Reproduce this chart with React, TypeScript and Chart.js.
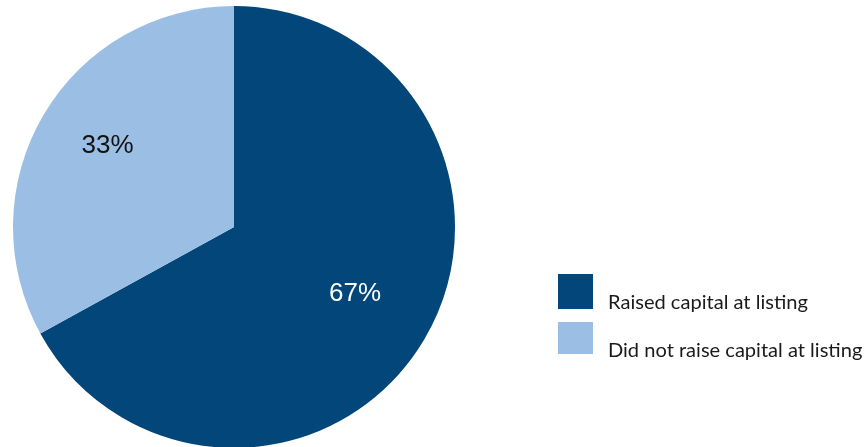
import React, { useEffect, useRef } from "react";
import { Chart, registerables } from "chart.js";

Chart.register(...registerables);

const categories = ["Raised capital at listing", "Did not raise capital at listing"];
const shares = [67, 33];
const valueLabels = ["67%", "33%"];
const sliceColors = ["#03477A", "#9BBFE4"];
const labelColors = ["#FFFFFF", "#111111"];

const labelPlugin = {
  id: "sliceLabels",
  afterDatasetsDraw(chart: any) {
    const ctx = chart.ctx;
    const meta = chart.getDatasetMeta(0);
    const fracs = [0.623, 0.683];
    const angleShift = [-2.2, 2.5];
    ctx.save();
    ctx.font = "26px 'Liberation Sans', Arial, sans-serif";
    ctx.textAlign = "center";
    ctx.textBaseline = "middle";
    meta.data.forEach((arc: any, i: number) => {
      const p = arc.getProps(["x", "y", "startAngle", "endAngle", "outerRadius"], true);
      const mid = (p.startAngle + p.endAngle) / 2 + (angleShift[i] * Math.PI) / 180;
      const r = p.outerRadius * fracs[i];
      ctx.fillStyle = labelColors[i];
      ctx.fillText(valueLabels[i], p.x + Math.cos(mid) * r, p.y + Math.sin(mid) * r + 1);
    });
    ctx.restore();
  },
};

const legendPlugin = {
  id: "customLegend",
  afterDraw(chart: any) {
    const ctx = chart.ctx;
    ctx.save();
    const boxX = 558;
    const boxTops = [274, 322];
    const boxSize = 35;
    ctx.font = "20px Lato, 'Liberation Sans', sans-serif";
    const w = ctx.measureText(categories[0]).width;
    const size = (20 * 200) / w;
    ctx.font = `${size.toFixed(2)}px Lato, 'Liberation Sans', sans-serif`;
    ctx.textAlign = "left";
    ctx.textBaseline = "alphabetic";
    categories.forEach((c, i) => {
      ctx.fillStyle = sliceColors[i];
      ctx.fillRect(boxX, boxTops[i], boxSize, i === 0 ? 35 : 32);
      ctx.fillStyle = "#1a1a1a";
      ctx.fillText(c, 608, boxTops[i] + 35);
    });
    ctx.restore();
  },
};

export default function App() {
  const ref = useRef<HTMLCanvasElement>(null);
  useEffect(() => {
    document.body.style.margin = "0";
    document.body.style.overflow = "hidden";
    const chart = new Chart(ref.current!, {
      type: "pie",
      data: {
        labels: categories,
        datasets: [
          {
            data: shares,
            backgroundColor: sliceColors,
            borderWidth: 0,
          },
        ],
      },
      options: {
        animation: false,
        responsive: false,
        maintainAspectRatio: false,
        layout: { padding: { left: 13, top: 6, right: 410, bottom: 2 } },
        plugins: {
          legend: { display: false },
          tooltip: { enabled: false },
        },
      },
      plugins: [labelPlugin, legendPlugin],
    });
    return () => chart.destroy();
  }, []);
  return (
    <div style={{ position: "fixed", left: 0, top: 0, width: 865, height: 447, overflow: "hidden", background: "#fff" }}>
      <canvas ref={ref} width={865} height={450} style={{ width: 865, height: 450, display: "block" }} />
    </div>
  );
}
